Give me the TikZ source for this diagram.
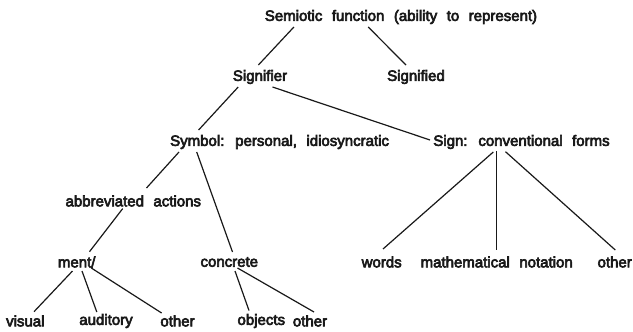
\documentclass[tikz,border=0pt]{standalone}
\usepackage{fontspec}
\setmainfont{Liberation Sans}
\newcommand\lblfont{\fontsize{15}{17}\selectfont}
\newcommand\widesp{\spaceskip=9.5pt\relax\special{pdf:literal direct 2 Tr 0.6 w}}
\begin{document}
\begin{tikzpicture}[x=1pt,y=-1pt,
  lbl/.style={inner sep=0pt,font=\lblfont,text=black!90,execute at begin node=\widesp},
  conn/.style={line width=1.2pt,black!90}]
\useasboundingbox[fill=white] (0,0) rectangle (633,332);
\node[lbl] (sem)  at (401,17) {Semiotic function (ability to represent)};
\node[lbl] (sigr) at (260,77) {Signifier};
\node[lbl] (sigd) at (416,77) {Signified};
\node[lbl] (sym)  at (279.6,142) {Symbol: personal, idiosyncratic};
\node[lbl] (sign) at (521.5,142) {Sign: conventional forms};
\node[lbl] (abb)  at (133.3,201) {abbreviated actions};
\node[lbl] (ment) at (76.7,262) {ment/};
\node[lbl] (conc) at (229.3,262) {concrete};
\node[lbl] (words) at (381.7,262) {words};
\node[lbl] (math) at (496.7,262) {mathematical notation};
\node[lbl] (oth1) at (614.7,262) {other};
\node[lbl] (vis) at (25.3,321) {visual};
\node[lbl] (aud) at (106,321) {auditory};
\node[lbl] (oth2) at (177.5,321) {other};
\node[lbl] (obj) at (261.3,321) {objects};
\node[lbl] (oth3) at (310,321) {other};
\draw[conn] ([shift={(-107.1,10)}]sem.center) -- ([shift={(-1.6,-12)}]sigr.center);
\draw[conn] ([shift={(-32.8,10)}]sem.center) -- ([shift={(-10,-12)}]sigd.center);
\draw[conn] ([shift={(-21.8,10)}]sigr.center) -- ([shift={(-81,-12)}]sym.center);
\draw[conn] ([shift={(12.5,10)}]sigr.center) -- ([shift={(-91.5,-2)}]sign.center);
\draw[conn] ([shift={(-100.6,10)}]sym.center) -- ([shift={(13.2,-13)}]abb.center);
\draw[conn] ([shift={(-82.9,10)}]sym.center) -- ([shift={(3.2,-10)}]conc.center);
\draw[conn] ([shift={(-28.2,10)}]sign.center) -- ([shift={(1.3,-13)}]words.center);
\draw[conn] ([shift={(-24.8,9)}]sign.center) -- ([shift={(0,-12)}]math.center);
\draw[conn] ([shift={(-16,9.7)}]sign.center) -- ([shift={(0.6,-12)}]oth1.center);
\draw[conn] ([shift={(-10.6,7.6)}]abb.center) -- ([shift={(12.8,-10.3)}]ment.center);
\draw[conn] ([shift={(-4.2,9)}]ment.center) -- ([shift={(8.7,-9.3)}]vis.center);
\draw[conn] ([shift={(5.3,9)}]ment.center) -- ([shift={(-9.2,-9)}]aud.center);
\draw[conn] ([shift={(14.6,6)}]ment.center) -- ([shift={(-15.9,-8)}]oth2.center);
\draw[conn] ([shift={(5.7,9)}]conc.center) -- ([shift={(-12.3,-10.5)}]obj.center);
\draw[conn] ([shift={(8.2,6)}]conc.center) -- ([shift={(4,-9)}]oth3.center);
\end{tikzpicture}
\end{document}
